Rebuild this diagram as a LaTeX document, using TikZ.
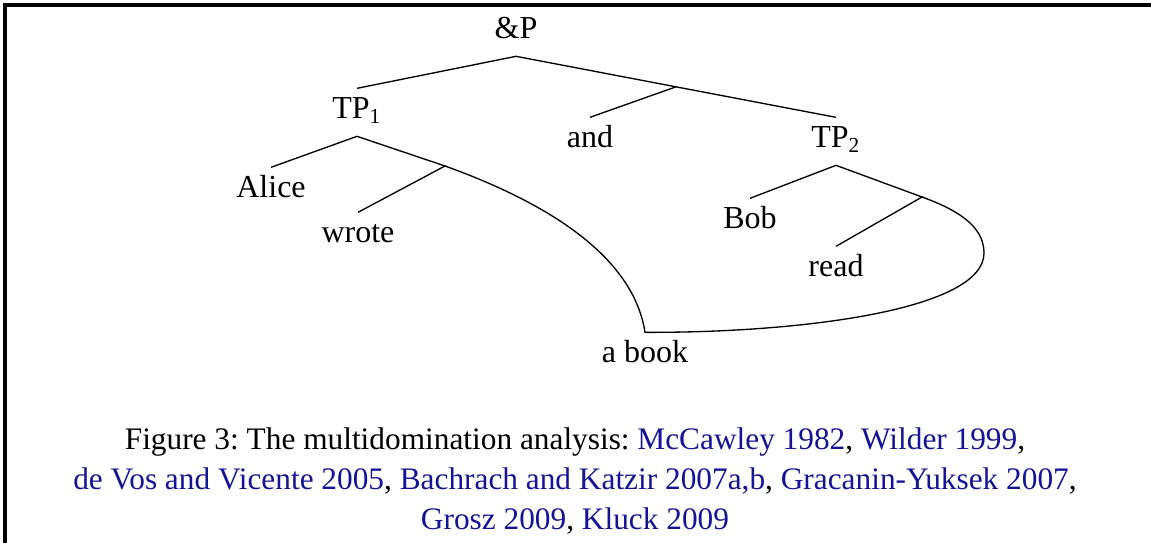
\documentclass[tikz,border=0pt]{standalone}
\usepackage{fontspec}
\setmainfont{Liberation Serif}
\usetikzlibrary{calc}
\definecolor{citeblue}{RGB}{20,20,150}
\newcommand{\refcite}[1]{\textcolor{citeblue}{#1}}
\frenchspacing
\begin{document}
\begin{tikzpicture}[x=0.375pt,y=-0.375pt,
				every node/.style={font=\fontsize{12}{15}\selectfont},
				lbl/.style={inner sep=0pt,outer sep=3.5pt,text height=8pt,text depth=3pt,anchor=base},
				capline/.style={inner sep=0pt,anchor=base,font=\fontsize{11.75}{15}\selectfont},
				branch/.style={line width=0.5pt}]
\useasboundingbox (0,0) rectangle (1151,543);
\draw[line width=1.5pt] (5,543) -- (5,5) -- (1151,5);
% labels
\node[lbl] (andP) at (516,39) {\&P};
\node[lbl] (tp1) at (357,119) {TP\textsubscript{1}};
\node[lbl] (and) at (590,148) {and};
\node[lbl] (tp2) at (836,148) {TP\textsubscript{2}};
\node[lbl] (alice) at (271,198) {Alice};
\node[lbl] (wrote) at (358,243) {wrote};
\node[lbl] (bob) at (750,229) {Bob};
\node[lbl] (read) at (836,277) {read};
\node[lbl] (book) at (645,363) {a book};
\coordinate (conj) at ($(andP.south)!0.5!(tp2.north)$);
\coordinate (v1) at (445,166);
\coordinate (v2) at (922,197);
\coordinate (loop) at (984,253);
% branches
\draw[branch] (andP.south) -- (tp1.north);
\draw[branch] (andP.south) -- (conj) -- (tp2.north);
\draw[branch] (conj) -- (and.north);
\draw[branch] (tp1.south) -- (alice.north);
\draw[branch] (tp1.south) -- (v1) -- (wrote.north);
\draw[branch] (tp2.south) -- (bob.north);
\draw[branch] (tp2.south) -- (v2) -- (read.north);
% shared object
\draw[branch] (v1) .. controls (545,202) and (633,255) .. (book.north)
	.. controls (800,333) and (984,310) .. (loop)
	.. controls (984,225) and (955,209) .. (v2);
% caption
\node[capline] (cap1) at (575,450) {Figure 3: The multidomination analysis: \refcite{McCawley 1982}, \refcite{Wilder 1999},};
\node[capline] (cap2) at (575,490) {\refcite{de Vos and Vicente 2005}, \refcite{Bachrach and Katzir 2007a,b}, \refcite{Gracanin-Yuksek 2007},};
\node[capline] (cap3) at (575,530) {\refcite{Grosz 2009}, \refcite{Kluck 2009}};
\end{tikzpicture}
\end{document}
